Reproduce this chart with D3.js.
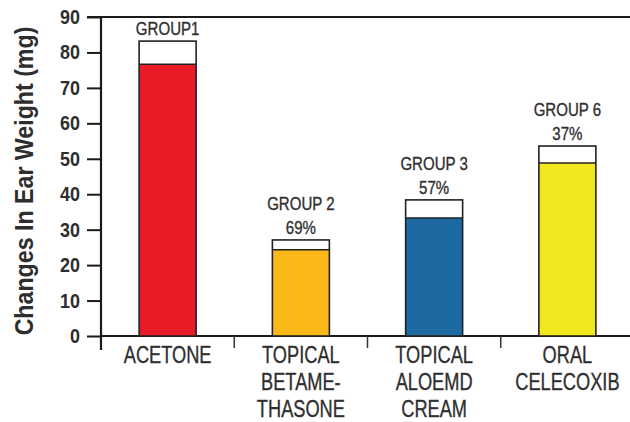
<!DOCTYPE html>
<html>
<head>
<meta charset="utf-8">
<script src="https://cdn.jsdelivr.net/npm/d3@7"></script>
<style>
  html, body { margin: 0; padding: 0; background: #fff; }
  svg { display: block; }
  text { font-family: "Liberation Sans", Arial, sans-serif; fill: #2e2e2e; }
</style>
</head>
<body>
<svg id="chart" width="630" height="422"></svg>
<script>
// ---- data ----
const categories = [
  ["ACETONE"],
  ["TOPICAL", "BETAME-", "THASONE"],
  ["TOPICAL", "ALOEMD", "CREAM"],
  ["ORAL", "CELECOXIB"]
];
const groupLabels = ["GROUP1", "GROUP 2", "GROUP 3", "GROUP 6"];
const percentLabels = ["", "69%", "57%", "37%"];
const totalValues = [83.2, 27.1, 38.4, 53.6];
const filledValues = [76.7, 24.3, 33.3, 48.8];
const barColors = ["#e81c26", "#fbb919", "#1c6aa1", "#f2e61c"];
const yTicks = [0, 10, 20, 30, 40, 50, 60, 70, 80, 90];
const yTitle = "Changes In Ear Weight (mg)";

// ---- layout ----
const svg = d3.select("#chart");
const W = 630, H = 422;
const margin = { left: 101, right: -4, top: 17, bottom: 86 };
const plotBottom = H - margin.bottom; // 336

const idx = d3.range(categories.length);
const x = d3.scaleBand().domain(idx).range([margin.left, W - margin.right]).padding(0);
const y = d3.scaleLinear().domain([0, 90]).range([plotBottom, margin.top]);
const barW = 57;

function condensedText(parent, tx, ty, str, size, sx, opts = {}) {
  const t = parent.append("text")
    .attr("transform", `translate(${tx},${ty}) scale(${sx},1)`)
    .attr("text-anchor", opts.anchor || "middle")
    .attr("font-size", size)
    .attr("font-weight", opts.weight || "normal")
    .attr("fill", opts.fill || "#2e2e2e")
    .text(str);
  if (opts.stroke) {
    t.attr("stroke", opts.fill || "#2e2e2e").attr("stroke-width", opts.stroke);
  }
  return t;
}

// top frame line
svg.append("line")
  .attr("x1", 87).attr("x2", W).attr("y1", y(90)).attr("y2", y(90))
  .attr("stroke", "#1a1a1a").attr("stroke-width", 2.2);

// y axis ticks
const yAxis = svg.append("g")
  .attr("transform", `translate(${margin.left},0)`)
  .call(d3.axisLeft(y).tickValues(yTicks).tickSize(14).tickFormat(""));
yAxis.select(".domain").remove();
yAxis.selectAll(".tick line").attr("stroke", "#1a1a1a").attr("stroke-width", 2);

// y tick labels
yTicks.forEach(t => {
  condensedText(svg, 80, y(t) + 7, String(t), 19.5, 0.92, { anchor: "end", weight: "bold", fill: "#333" });
});

// y axis vertical line (extends below baseline)
svg.append("line")
  .attr("x1", margin.left).attr("x2", margin.left)
  .attr("y1", y(90) - 1).attr("y2", plotBottom + 14)
  .attr("stroke", "#1a1a1a").attr("stroke-width", 2.2);

// x baseline
svg.append("line")
  .attr("x1", margin.left).attr("x2", W)
  .attr("y1", plotBottom).attr("y2", plotBottom)
  .attr("stroke", "#1a1a1a").attr("stroke-width", 2.2);

// category separators
svg.selectAll(".sep").data(idx.slice(1)).enter().append("line")
  .attr("x1", d => x(d)).attr("x2", d => x(d))
  .attr("y1", plotBottom).attr("y2", plotBottom + 12)
  .attr("stroke", "#333").attr("stroke-width", 1.5);

// bars
const bars = svg.selectAll(".bar").data(idx).enter().append("g");
const bx = d => x(d) + (x.bandwidth() - barW) / 2;
bars.append("rect")
  .attr("x", bx).attr("width", barW)
  .attr("y", d => y(totalValues[d]))
  .attr("height", d => y(0) - y(totalValues[d]))
  .attr("fill", "#fff");
bars.append("rect")
  .attr("x", bx).attr("width", barW)
  .attr("y", d => y(filledValues[d]))
  .attr("height", d => y(0) - y(filledValues[d]))
  .attr("fill", d => barColors[d]);
bars.append("line")
  .attr("x1", bx).attr("x2", d => bx(d) + barW)
  .attr("y1", d => y(filledValues[d])).attr("y2", d => y(filledValues[d]))
  .attr("stroke", "#222").attr("stroke-width", 1.5);
bars.append("rect")
  .attr("x", bx).attr("width", barW)
  .attr("y", d => y(totalValues[d]))
  .attr("height", d => y(0) - y(totalValues[d]))
  .attr("fill", "none").attr("stroke", "#222").attr("stroke-width", 1.6);

// group and percent labels
bars.each(function(d) {
  const g = d3.select(this);
  const cx = x(d) + x.bandwidth() / 2;
  const top = y(totalValues[d]) - 6;
  const lines = percentLabels[d] ? [groupLabels[d], percentLabels[d]] : [groupLabels[d]];
  lines.slice().reverse().forEach((t, i) => {
    condensedText(g, cx, top - i * 24, t, 17.5, 0.86, { fill: "#333", stroke: 0.35 });
  });
});

// category labels
idx.forEach(d => {
  const cx = x(d) + x.bandwidth() / 2;
  categories[d].forEach((t, i) => {
    condensedText(svg, cx, plotBottom + 27 + i * 27, t, 24, 0.76, { fill: "#333", stroke: 0.35 });
  });
});

// y title (rotated, compressed along its length)
svg.append("text")
  .attr("transform", `translate(33,${(25 + 337) / 2}) rotate(-90) scale(0.91,1)`)
  .attr("text-anchor", "middle")
  .attr("font-size", 25.5).attr("font-weight", "bold")
  .attr("fill", "#1e1e1e")
  .text(yTitle);
</script>
</body>
</html>
